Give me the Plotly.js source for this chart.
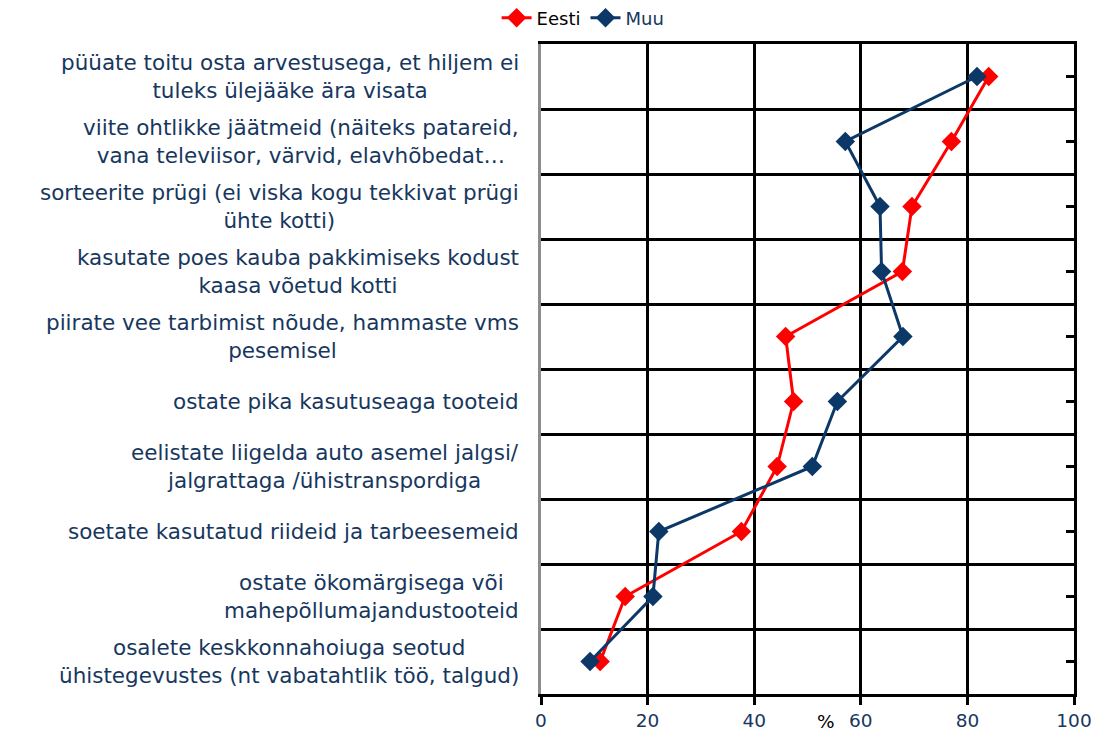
<!DOCTYPE html>
<html>
<head>
<meta charset="utf-8">
<script src="https://cdn.plot.ly/plotly-3.0.1.min.js"></script>
<style>
  html, body { margin: 0; padding: 0; background: #fff; }
  #chart { width: 1096px; height: 731px; }
</style>
</head>
<body>
<div id="chart"></div>
<script>
const categories = [
  "püüate toitu osta arvestusega, et hiljem ei<br>tuleks ülejääke ära visata",
  "viite ohtlikke jäätmeid (näiteks patareid,<br>vana televiisor, värvid, elavhõbedat…",
  "sorteerite prügi (ei viska kogu tekkivat prügi<br>ühte kotti)",
  "kasutate poes kauba pakkimiseks kodust<br>kaasa võetud kotti",
  "piirate vee tarbimist nõude, hammaste vms<br>pesemisel",
  "ostate pika kasutuseaga tooteid",
  "eelistate liigelda auto asemel jalgsi/<br>jalgrattaga /ühistranspordiga",
  "soetate kasutatud riideid ja tarbeesemeid",
  "ostate ökomärgisega või<br>mahepõllumajandustooteid",
  "osalete keskkonnahoiuga seotud<br>ühistegevustes (nt vabatahtlik töö, talgud)"
];
const eesti = [84.0, 77.0, 69.6, 67.8, 45.9, 47.4, 44.3, 37.6, 15.8, 11.1];
const muu   = [81.8, 57.1, 63.6, 63.9, 67.9, 55.6, 50.9, 22.1, 21.0, 9.2];
const xTicks = [0, 20, 40, 60, 80, 100];
const seriesNames = ["Eesti", "Muu"];

const RED = "#ff0000";
const BLUE = "#0c3868";
const LABEL = "#17375e";
const FONT = "DejaVu Sans, Verdana, sans-serif";

const traces = [
  {
    x: eesti, y: categories, name: seriesNames[0], type: "scatter", mode: "lines+markers",
    line: {color: RED, width: 3}, marker: {symbol: "diamond", size: 15, color: RED},
    cliponaxis: false
  },
  {
    x: muu, y: categories, name: '<span style="color:' + LABEL + '">' + seriesNames[1] + '</span>',
    type: "scatter", mode: "lines+markers",
    line: {color: BLUE, width: 3}, marker: {symbol: "diamond", size: 15, color: BLUE},
    cliponaxis: false
  },
  {
    x: categories.map(() => null), y: categories, yaxis: "y2", type: "scatter", mode: "markers",
    showlegend: false, hoverinfo: "skip"
  }
];

const annotations = categories.map(c => ({
  text: c, xref: "paper", yref: "y", x: -0.038, y: c,
  xanchor: "right", yanchor: "middle", align: "center", showarrow: false,
  font: {family: FONT, size: 21.5, color: LABEL}
}));
annotations.push({
  text: "%", xref: "x", yref: "paper", x: 53.5, y: -0.043,
  xanchor: "center", yanchor: "middle", showarrow: false,
  font: {family: FONT, size: 18.5, color: "#000"}
});

const layout = {
  width: 1096, height: 731,
  margin: {l: 541, r: 22, t: 44, b: 37, autoexpand: false},
  paper_bgcolor: "#fff", plot_bgcolor: "#fff",
  font: {family: FONT, size: 18, color: LABEL},
  showlegend: true,
  legend: {
    orientation: "h", x: 0.079, y: 1.04, xanchor: "center", yanchor: "middle",
    font: {family: FONT, size: 18, color: "#000"}, bgcolor: "rgba(0,0,0,0)"
  },
  xaxis: {
    range: [0, 100], tickvals: xTicks, ticktext: xTicks.map(String),
    showgrid: true, gridcolor: "#000", gridwidth: 3,
    zeroline: false, showline: true, mirror: true, linecolor: "#000", linewidth: 3,
    ticks: "outside", ticklen: 8, tickwidth: 3, tickcolor: "#000",
    tickfont: {family: FONT, size: 18.5, color: LABEL}
  },
  yaxis: {
    type: "category", categoryorder: "array", categoryarray: categories,
    range: [categories.length - 0.5, -0.5],
    tickson: "boundaries", showgrid: true, gridcolor: "#000", gridwidth: 3,
    showticklabels: false, ticks: "", zeroline: false,
    showline: true, linecolor: "#8c8c8c", linewidth: 3
  },
  yaxis2: {
    type: "category", categoryorder: "array", categoryarray: categories,
    range: [categories.length - 0.5, -0.5],
    overlaying: "y", side: "right", anchor: "x",
    showgrid: false, showticklabels: false, zeroline: false,
    showline: true, linecolor: "#000", linewidth: 3,
    ticks: "inside", ticklen: 8, tickwidth: 2.5, tickcolor: "#000"
  },
  annotations: annotations
};

Plotly.newPlot("chart", traces, layout, {displayModeBar: false, staticPlot: true});
</script>
</body>
</html>
